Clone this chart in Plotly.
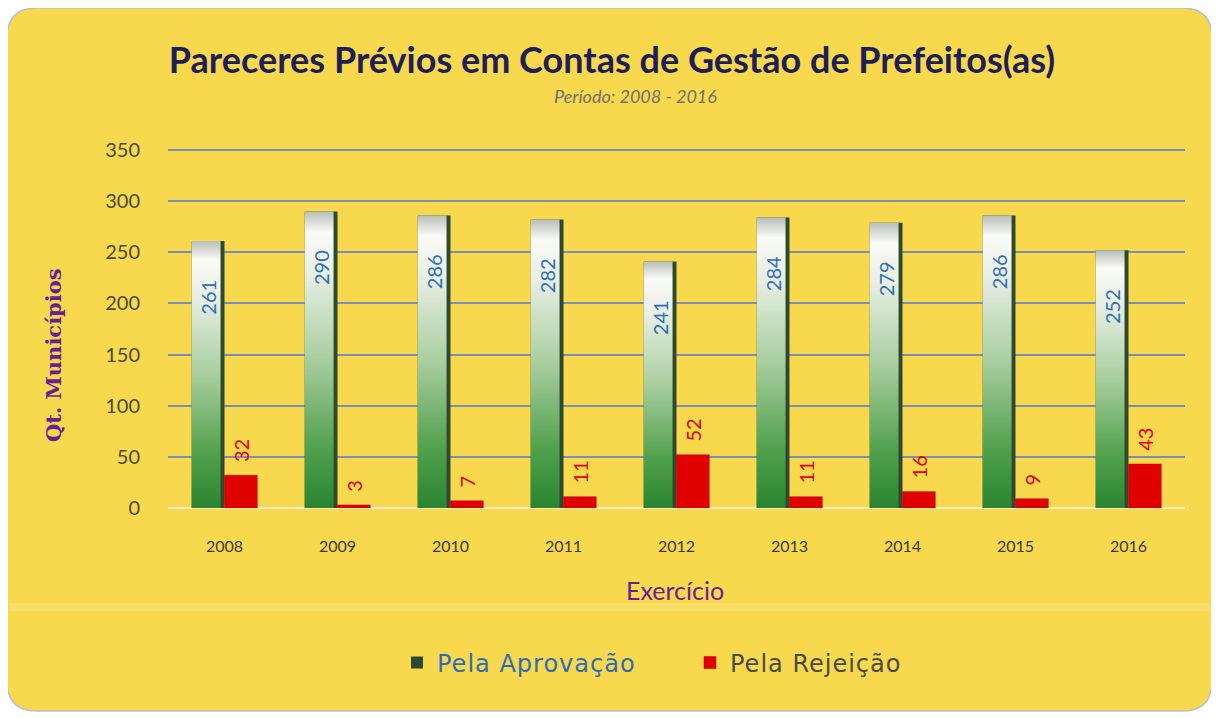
import plotly.graph_objects as go

# ---- data ----
anos = ["2008", "2009", "2010", "2011", "2012", "2013", "2014", "2015", "2016"]
aprovacao = [261, 290, 286, 282, 241, 284, 279, 286, 252]
rejeicao = [32, 3, 7, 11, 52, 11, 16, 9, 43]

titulo = "Pareceres Prévios em Contas de Gestão de Prefeitos(as)"
subtitulo = "Período: 2008 - 2016"
nome_aprov = "Pela Aprovação"
nome_rej = "Pela Rejeição"
y_titulo = "Qt. Municípios"
x_titulo = "Exercício"

# ---- geometry (page pixels; the figure sits at an 8px body offset) ----
OFF = 8
W, H = 1219 - OFF, 718 - OFF
L, R, T, B = 168, 1185, 150, 508        # plot area in page pixels (0 -> B, 350 -> T)
YMAX = 352.0
BW = 0.29      # bar width in category units
SH = 0.035     # dark shadow strip at right of green bar

plot_top = B - (B - T) * YMAX / 350.0

def fx(px):
    return (px - L) / (R - L)

def fy(py):
    return (B - py) / (B - plot_top)

idx = list(range(len(anos)))
FONT = "Lato"
YELLOW = "#F8D84C"
NB = "\u00a0"

fig = go.Figure()

# dark shadow / base of green bars (legend entry)
fig.add_trace(go.Bar(
    x=idx, y=aprovacao, width=BW, offset=-BW,
    name=f"<span style='color:#2F6DB8;letter-spacing:1px'>{nome_aprov}</span>",
    marker=dict(color="#2E4A2E", line=dict(width=0)),
    hoverinfo="skip", legendrank=1,
))

# red bars
fig.add_trace(go.Bar(
    x=idx, y=rejeicao, width=BW, offset=0,
    name=f"<span style='color:#4A4A4A;letter-spacing:1px'>{nome_rej}</span>",
    marker=dict(color="#E00000", line=dict(color="#B00000", width=0.5)),
    text=[NB * 2 + str(v) for v in rejeicao], textposition="outside", textangle=-90,
    outsidetextfont=dict(color="#E00000", size=20, family=FONT),
    constraintext="none", cliponaxis=False, legendrank=2,
))

# gradient body of green bars
grad = [[0.0, "#2A8530"], [0.2, "#50A04C"], [0.5, "#A8CE9F"], [0.78, "#E6EEE2"],
        [0.93, "#FAFAF6"], [1.0, "#B9BEB9"]]
for i, v in zip(idx, aprovacao):
    x0, x1 = i - BW, i - SH
    fig.add_trace(go.Scatter(
        x=[x0, x0, x1, x1, x0], y=[0, v, v, 0, 0],
        mode="none", fill="toself",
        fillgradient=dict(type="vertical", colorscale=grad, start=0, stop=v),
        showlegend=False, hoverinfo="skip",
    ))

# labels of green bars on an overlay axis so they sit above the gradient
fig.add_trace(go.Bar(
    x=idx, y=aprovacao, width=BW, offset=-BW, xaxis="x2", yaxis="y2",
    marker=dict(color="rgba(0,0,0,0)", line=dict(width=0)),
    text=[str(v) + NB * 7 for v in aprovacao], textposition="inside",
    insidetextanchor="end", textangle=-90,
    insidetextfont=dict(color="#2F6DB8", size=20, family=FONT),
    constraintext="none", showlegend=False, hoverinfo="skip",
))

# card background with rounded corners (page pixels)
cx0, cx1, cy0, cy1, rr = 7, 1212, 8, 711, 30
def P(px, py):
    return f"{fx(px):.5f},{fy(py):.5f}"
path = (f"M {P(cx0+rr, cy0)} L {P(cx1-rr, cy0)} Q {P(cx1, cy0)} {P(cx1, cy0+rr)} "
        f"L {P(cx1, cy1-rr)} Q {P(cx1, cy1)} {P(cx1-rr, cy1)} "
        f"L {P(cx0+rr, cy1)} Q {P(cx0, cy1)} {P(cx0, cy1-rr)} "
        f"L {P(cx0, cy0+rr)} Q {P(cx0, cy0)} {P(cx0+rr, cy0)} Z")

fig.update_layout(
    width=W, height=H,
    margin=dict(l=L - OFF, r=W - (R - OFF), t=plot_top - OFF, b=H - (B - OFF),
                autoexpand=False),
    paper_bgcolor="white", plot_bgcolor="rgba(0,0,0,0)",
    barmode="overlay",
    font=dict(family=FONT, color="#3A3A3A"),
    title=dict(text=f"<b>{titulo}</b>", x=(612 - OFF) / W, xanchor="center",
               y=1 - (60 - OFF) / H, yanchor="middle",
               font=dict(size=36, color="#1E1E5A", family=FONT)),
    xaxis=dict(range=[-0.5, len(anos) - 0.5], tickmode="array", tickvals=idx,
               ticktext=anos, showgrid=False, zeroline=False, showline=False,
               ticks="outside", ticklen=24, tickcolor="rgba(0,0,0,0)",
               tickfont=dict(size=16, color="#3A3A3A", family=FONT), fixedrange=True),
    yaxis=dict(range=[0, YMAX], tickmode="linear", tick0=0, dtick=50,
               showgrid=True, gridcolor="#7A8FB5", gridwidth=1.5,
               zeroline=True, zerolinecolor="#F2EBCD", zerolinewidth=2,
               showline=False, ticks="outside", ticklen=23,
               tickcolor="rgba(0,0,0,0)",
               tickfont=dict(size=20, color="#4A4A3A", family=FONT), fixedrange=True),
    xaxis2=dict(overlaying="x", anchor="y2", range=[-0.5, len(anos) - 0.5], visible=False),
    yaxis2=dict(overlaying="y", anchor="x2", range=[0, YMAX], visible=False),
    legend=dict(orientation="h", x=fx(397), y=fy(663), xanchor="left", yanchor="middle",
                font=dict(size=24, family="DejaVu Sans"), bgcolor="rgba(0,0,0,0)",
                entrywidth=248, entrywidthmode="pixels"),
    shapes=[
        dict(type="path", xref="paper", yref="paper", path=path, layer="below",
             fillcolor=YELLOW, line=dict(color="#B9C0CC", width=1.5)),
        dict(type="rect", xref="paper", yref="paper", x0=fx(cx0 + 2), x1=fx(cx1 - 2),
             y0=fy(611), y1=fy(603), layer="below",
             fillcolor="rgba(255,250,220,0.18)", line=dict(width=0)),
    ],
    annotations=[
        dict(text=f"<i>{subtitulo}</i>", xref="paper", yref="paper", x=fx(635), y=fy(96),
             xanchor="center", yanchor="middle", showarrow=False,
             font=dict(size=18, color="#707070", family=FONT)),
        dict(text=f"<b>{y_titulo}</b>", xref="paper", yref="paper", x=fx(53), y=fy(355),
             xanchor="center", yanchor="middle", textangle=-90, showarrow=False,
             font=dict(size=21, color="#6A1E96", family="DejaVu Serif")),
        dict(text=x_titulo, xref="paper", yref="paper", x=fx(675), y=fy(590),
             xanchor="center", yanchor="middle", showarrow=False,
             font=dict(size=25, color="#6A1E96", family=FONT)),
    ],
)

fig.write_html("out.html")
